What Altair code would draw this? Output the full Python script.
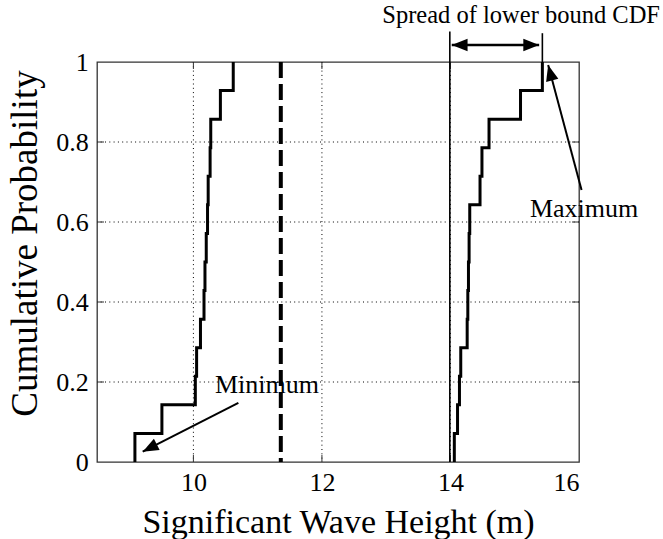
import math
import altair as alt
import pandas as pd

# ---- data ----
lower_cdf_a = [9.09, 9.51, 10.03, 10.05, 10.11, 10.165, 10.18, 10.20, 10.22, 10.23, 10.26, 10.27, 10.42, 10.62]
lower_cdf_b = [14.06, 14.11, 14.14, 14.16, 14.26, 14.27, 14.28, 14.29, 14.30, 14.46, 14.49, 14.60, 15.09, 15.43]
dashed_x = [11.36]
x_ticks = [10, 12, 14, 16]
y_ticks = [0, 0.2, 0.4, 0.6, 0.8, 1]
grid_x = [10, 12, 14]
grid_y = [0.2, 0.4, 0.6, 0.8]

X_DOMAIN = [8.5, 16]
Y_DOMAIN = [0, 1]
W, H = 482, 400
PX = W / (X_DOMAIN[1] - X_DOMAIN[0])
PY = H / (Y_DOMAIN[1] - Y_DOMAIN[0])

SERIF = "Liberation Serif"

# annotation geometry (data units)
spread_lines = pd.DataFrame({"x": [13.99, 15.43], "y": [0.0, 1.0], "y2": [1.076, 1.072]})
spread_arrow = pd.DataFrame({"x": [14.02], "x2": [15.38], "y": [1.0425]})
arrows = pd.DataFrame({
    "x": [10.70, 16.04],
    "y": [0.148, 0.68],
    "x2": [9.211, 15.52],
    "y2": [0.0258, 0.9925],
})
texts_right = pd.DataFrame({"label": ["Spread of lower bound CDF"], "x": [17.26], "y": [1.097]})
texts_left = pd.DataFrame({"label": ["Maximum", "Minimum"], "x": [15.237, 10.336], "y": [0.613, 0.172]})


def ecdf(vals, name):
    v = sorted(vals)
    n = len(v)
    rows = [{"x": v[0], "y": 0.0, "i": 0, "s": name}]
    for k, xv in enumerate(v):
        rows.append({"x": xv, "y": (k + 1) / n, "i": k + 1, "s": name})
    return rows


cdf = pd.DataFrame(ecdf(lower_cdf_a, "a") + ecdf(lower_cdf_b, "b"))


def head_angle(dx, dy):
    sx = dx * PX
    sy = -dy * PY
    return math.degrees(math.atan2(sx, -sy)) % 360


heads = []
for _, r in arrows.iterrows():
    heads.append({"x": r.x2, "y": r.y2, "angle": head_angle(r.x2 - r.x, r.y2 - r.y)})
heads.append({"x": spread_arrow.x[0], "y": spread_arrow.y[0], "angle": 270})
heads.append({"x": spread_arrow.x2[0], "y": spread_arrow.y[0], "angle": 90})
heads = pd.DataFrame(heads)

xs = alt.Scale(domain=X_DOMAIN, nice=False, zero=False)
ys = alt.Scale(domain=Y_DOMAIN, nice=False, zero=False)

base_x = alt.X("x:Q", scale=xs, axis=alt.Axis(values=x_ticks, format="~g", title="Significant Wave Height (m)"))
base_y = alt.Y("y:Q", scale=ys, axis=alt.Axis(values=y_ticks, format="~g", title="Cumulative Probability"))

gx = alt.Chart(pd.DataFrame({"x": grid_x})).mark_rule(
    color="black", strokeWidth=1, strokeDash=[1, 3.3]
).encode(x=base_x)
gy = alt.Chart(pd.DataFrame({"y": grid_y})).mark_rule(
    color="black", strokeWidth=1, strokeDash=[1, 3.3]
).encode(y=base_y)

tick_y_df = pd.DataFrame({"y": grid_y})
tick_x_df = pd.DataFrame({"x": grid_x})
tl = alt.Chart(tick_y_df).mark_rule(color="#333", strokeWidth=1).encode(
    y=alt.Y("y:Q", scale=ys), x=alt.value(0), x2=alt.value(7))
tr = alt.Chart(tick_y_df).mark_rule(color="#333", strokeWidth=1).encode(
    y=alt.Y("y:Q", scale=ys), x=alt.value(W), x2=alt.value(W - 7))
tb = alt.Chart(tick_x_df).mark_rule(color="#333", strokeWidth=1).encode(
    x=alt.X("x:Q", scale=xs), y=alt.value(H), y2=alt.value(H - 7))
tt = alt.Chart(tick_x_df).mark_rule(color="#333", strokeWidth=1).encode(
    x=alt.X("x:Q", scale=xs), y=alt.value(0), y2=alt.value(7))

dashed = alt.Chart(pd.DataFrame({"x": dashed_x})).mark_rule(
    color="black", strokeWidth=4, strokeDash=[16, 6]
).encode(x=alt.X("x:Q", scale=xs))

lines = alt.Chart(cdf).mark_line(
    interpolate="step-after", color="black", strokeWidth=3
).encode(
    x=alt.X("x:Q", scale=xs),
    y=alt.Y("y:Q", scale=ys),
    detail="s:N",
    order=alt.Order("i:Q"),
)

vlines = alt.Chart(spread_lines).mark_rule(color="black", strokeWidth=1.6).encode(
    x=alt.X("x:Q", scale=xs), y=alt.Y("y:Q", scale=ys), y2="y2:Q")

harrow = alt.Chart(spread_arrow).mark_rule(color="black", strokeWidth=2.5).encode(
    x=alt.X("x:Q", scale=xs), x2="x2:Q", y=alt.Y("y:Q", scale=ys))

shafts = alt.Chart(arrows).mark_rule(color="black", strokeWidth=2).encode(
    x=alt.X("x:Q", scale=xs), y=alt.Y("y:Q", scale=ys), x2="x2:Q", y2="y2:Q")

arrow_heads = alt.Chart(heads).mark_point(
    shape="M0,0 L-0.4,1 L0.4,1 Z", filled=True, size=1000, color="black", opacity=1, strokeWidth=0
).encode(
    x=alt.X("x:Q", scale=xs), y=alt.Y("y:Q", scale=ys),
    angle=alt.Angle("angle:Q", scale=None),
)

labels_r = alt.Chart(texts_right).mark_text(
    font=SERIF, fontSize=24.5, baseline="alphabetic", align="right", color="black"
).encode(x=alt.X("x:Q", scale=xs), y=alt.Y("y:Q", scale=ys), text="label:N")
labels_l = alt.Chart(texts_left).mark_text(
    font=SERIF, fontSize=26, baseline="alphabetic", align="left", color="black"
).encode(x=alt.X("x:Q", scale=xs), y=alt.Y("y:Q", scale=ys), text="label:N")

chart = alt.layer(
    gx, gy, tl, tr, tb, tt, dashed, lines, vlines, harrow, shafts, arrow_heads, labels_r, labels_l
).properties(
    width=W, height=H, autosize="none",
    padding={"left": 97, "top": 62, "right": 663 - 97 - W, "bottom": 539 - 62 - H},
).configure_view(
    stroke="#333", strokeWidth=1.3
).configure_axis(
    grid=False, ticks=False, tickSize=0, domain=False,
    labelFont=SERIF, labelFontSize=26, labelColor="black",
    titleFont=SERIF, titleFontWeight="normal", titleColor="black",
).configure_axisX(
    labelPadding=28.7, labelBaseline="alphabetic",
    titleFontSize=34, titleBaseline="alphabetic", titleY=70, titleX=W / 2,
).configure_axisY(
    labelPadding=8.7, titleFontSize=37, titleBaseline="alphabetic",
    titleX=-61, titleY=181, titleAngle=270,
)

chart.save("out.html", embed_options={"renderer": "svg", "actions": False})
